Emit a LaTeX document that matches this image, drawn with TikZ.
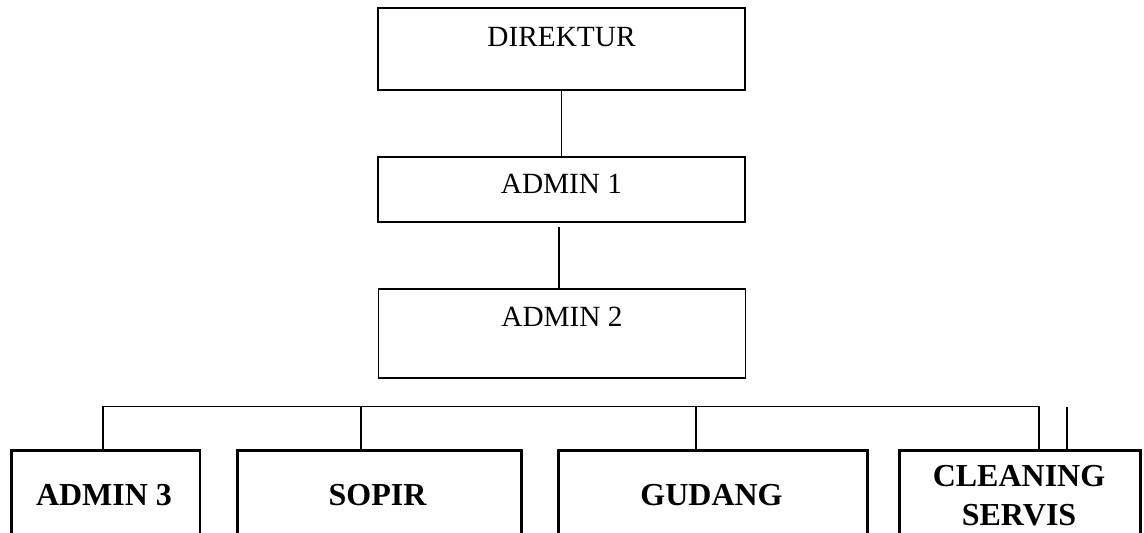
\documentclass[tikz,border=0pt]{standalone}
\usepackage{fontspec}
\setmainfont{Liberation Serif}
\begin{document}
\begin{tikzpicture}[x=0.5pt,y=-0.5pt,
  topbox/.style={draw, line width=0.55pt, minimum width=183.5pt, inner sep=0pt},
  lowbox/.style={draw, line width=1.4pt, inner sep=0pt},
  toptext/.style={anchor=base, inner sep=0pt, font=\fontsize{14.65}{17}\selectfont},
  lowtext/.style={anchor=base, inner sep=0pt, font=\fontsize{16}{19}\selectfont\bfseries},
  conn/.style={line width=0.65pt}]
\clip (0,0) rectangle (1144,533);
\fill[white] (0,0) rectangle (1144,533);
% top boxes
\node[topbox, minimum height=41pt] (dir) at (561.5,49) {};
\node[toptext] (dirt) at (561.5,46.7) {DIREKTUR};
\node[topbox, minimum height=32.5pt] (a1) at (561.5,189.5) {};
\node[toptext] (a1t) at (561.5,193.3) {ADMIN 1};
\node[topbox, minimum height=44.5pt] (a2) at (562,333.5) {};
\node[toptext] (a2t) at (562,326.7) {ADMIN 2};
% connectors top
\draw[conn] (dir.south) -- (a1.north);
\coordinate (c2) at (559,227);
\draw[conn] (c2) -- (c2 |- a2.north);
% bottom boxes
\node[lowbox, minimum width=94.25pt, minimum height=60pt, anchor=north west] (a3) at (10,449) {};
\node[lowtext] (a3t) at (104,505) {ADMIN 3};
\node[lowbox, minimum width=142pt, minimum height=60pt, anchor=north west] (sp) at (236,449) {};
\node[lowtext] (spt) at (377.5,505) {SOPIR};
\node[lowbox, minimum width=154.5pt, minimum height=60pt, anchor=north west] (gd) at (557,449) {};
\node[lowtext] (gdt) at (711.5,505) {GUDANG};
\node[lowbox, minimum width=120.5pt, minimum height=60pt, anchor=north west] (cs) at (898,449) {};
\node[lowtext, align=center] (cst) at (1019,486.7) {CLEANING};
\node[lowtext] (cst2) at (1019,525) {SERVIS};
% bus
\coordinate (b1) at (103,406.5);
\coordinate (b2) at (361,406.5);
\coordinate (b3) at (696,406.5);
\coordinate (b4) at (1039,406.5);
\draw[conn] (b1 |- a3.north) -- (b1) -- (b4) -- (b4 |- cs.north);
\draw[conn] (b2) -- (b2 |- sp.north);
\draw[conn] (b3) -- (b3 |- gd.north);
\coordinate (ex) at (1067,407);
\draw[conn] (ex) -- (ex |- cs.north);
\end{tikzpicture}
\end{document}
